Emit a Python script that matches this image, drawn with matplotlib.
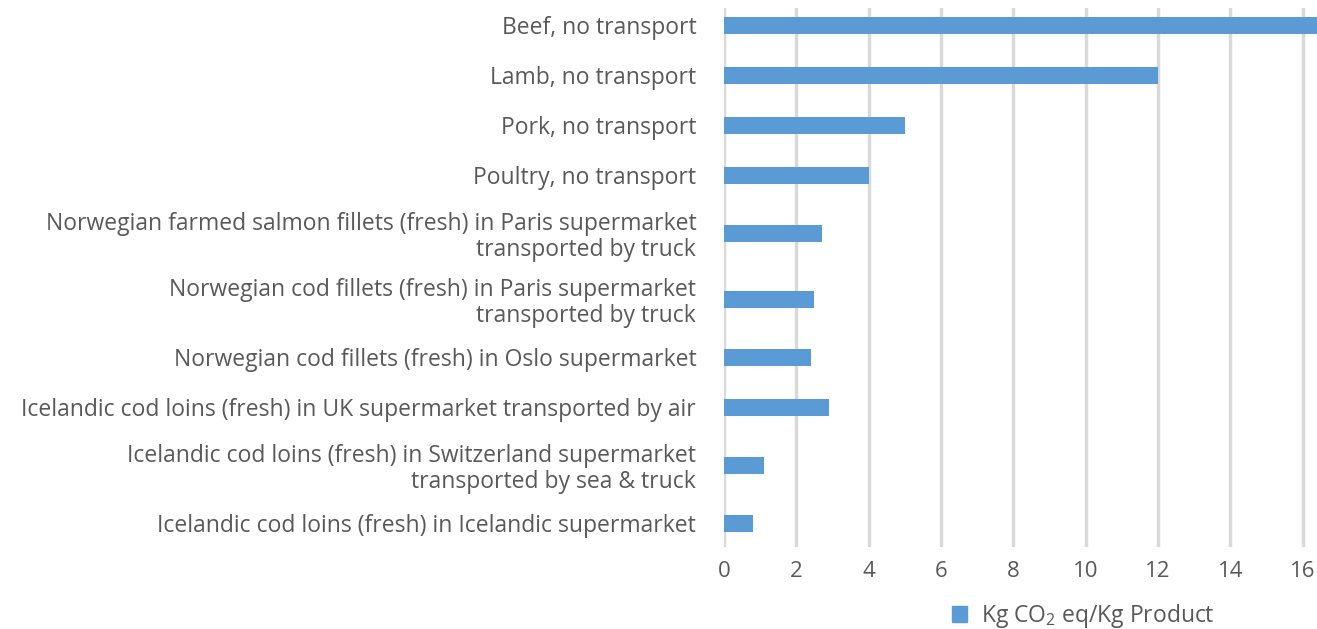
import matplotlib.pyplot as plt
from matplotlib.patches import Patch

plt.rcParams['font.family'] = ['Open Sans', 'DejaVu Sans']
plt.rcParams['mathtext.default'] = 'regular'

# products, top to bottom
products = [
    'Beef, no transport',
    'Lamb, no transport',
    'Pork, no transport',
    'Poultry, no transport',
    'Norwegian farmed salmon fillets (fresh) in Paris supermarket\ntransported by truck',
    'Norwegian cod fillets (fresh) in Paris supermarket\ntransported by truck',
    'Norwegian cod fillets (fresh) in Oslo supermarket',
    'Icelandic cod loins (fresh) in UK supermarket transported by air',
    'Icelandic cod loins (fresh) in Switzerland supermarket\ntransported by sea & truck',
    'Icelandic cod loins (fresh) in Icelandic supermarket',
]
co2 = [16.5, 12.0, 5.0, 4.0, 2.7, 2.5, 2.4, 2.9, 1.1, 0.8]
xticks = [0, 2, 4, 6, 8, 10, 12, 14, 16]

TEXT = '#595959'
BLUE = '#5b9bd5'
FS = 16.5

# two-line labels get a little more room
pos = [0.0]
for prev, cur in zip(products[:-1], products[1:]):
    extra = prev.count('\n') + cur.count('\n')
    pos.append(pos[-1] + 1 + 0.16 * extra)

fig = plt.figure(figsize=(13.17, 6.29), dpi=100)
ax = fig.add_axes([724 / 1317, 1 - 547 / 629, 1 - 724 / 1317, (547 - 8) / 629])

ax.barh(pos, co2, height=0.34, color=BLUE, zorder=3)

ax.set_xlim(0, 16.4)
ax.set_ylim(pos[-1] + 0.48, -0.34)
ax.set_xticks(xticks)
ax.set_yticks(pos)
ax.set_yticklabels(products, fontsize=FS, color=TEXT, linespacing=1.1)
ax.tick_params(axis='x', length=0, pad=10, labelsize=FS - 0.5, labelcolor=TEXT)
ax.tick_params(axis='y', length=0, pad=20)
ax.xaxis.grid(True, color='#d9d9d9', linewidth=2.5, zorder=0)
for s in ax.spines.values():
    s.set_visible(False)

fig.legend(handles=[Patch(color=BLUE)], labels=['Kg CO$_2$ eq/Kg Product'],
           loc='center', bbox_to_anchor=(1083 / 1317, 1 - 616 / 629),
           frameon=False, fontsize=FS, labelcolor=TEXT,
           handlelength=0.65, handleheight=0.65, handletextpad=0.6)

fig.savefig('out.png', dpi=100)
